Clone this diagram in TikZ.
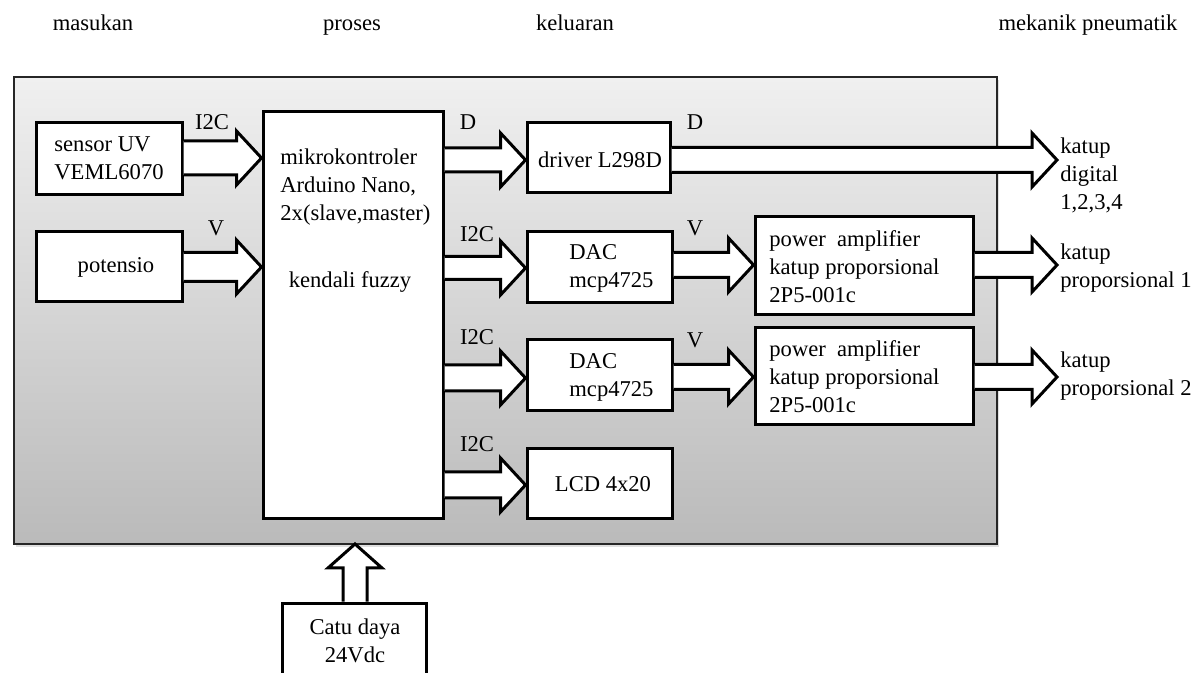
\documentclass[tikz,border=0pt]{standalone}
\usepackage{fontspec}
\setmainfont{Liberation Serif}
\usetikzlibrary{calc,shadows}
\definecolor{frtop}{RGB}{240,240,240}
\definecolor{frbot}{RGB}{186,186,186}
\tikzset{
  frame/.style={draw=black!85, line width=1.1pt, top color=frtop, bottom color=frbot,
    drop shadow={shadow xshift=1.2pt, shadow yshift=-1.5pt, opacity=0.25}, inner sep=0, outer sep=0},
  box/.style={draw, fill=white, line width=1.5pt, inner sep=0},
  txt/.style={inner sep=0, align=left, font=\fontsize{11.3}{14}\selectfont},
  blk/.style={draw, fill=white, line width=1.5pt, line join=miter},
}
% horizontal block arrow: source, target, y (px), shaft half width (px)
\newcommand\harr[4]{\path[blk] let \p1=(#1.east),\p2=(#2.west),\p3=(0,#3) in
  (\x1,\y3+#4*0.5pt) -- (\x2-12.5pt,\y3+#4*0.5pt) -- (\x2-12.5pt,\y3+13.5pt) -- (\x2,\y3)
  -- (\x2-12.5pt,\y3-13.5pt) -- (\x2-12.5pt,\y3-#4*0.5pt) -- (\x1,\y3-#4*0.5pt);}
% vertical block arrow (upwards): source, target, x (px), shaft half width (px)
\newcommand\varr[4]{\path[blk] let \p1=(#1.north),\p2=(#2.south),\p3=(#3,0) in
  (\x3-#4*0.5pt,\y1) -- (\x3-#4*0.5pt,\y2-12pt) -- (\x3-13.5pt,\y2-12pt) -- (\x3,\y2)
  -- (\x3+13.5pt,\y2-12pt) -- (\x3+#4*0.5pt,\y2-12pt) -- (\x3+#4*0.5pt,\y1);}
\begin{document}
\begin{tikzpicture}[x=0.5pt,y=-0.5pt]
\useasboundingbox (0,0) rectangle (1200,673);

% heading labels
\node[txt, anchor=base] (hin)  at (93,31)   {masukan};
\node[txt, anchor=base] (hpr)  at (352,31)  {proses};
\node[txt, anchor=base] (hout) at (575,31)  {keluaran};
\node[txt, anchor=base] (hmek) at (1088,31) {mekanik pneumatik};

% outer frame
\node[frame, minimum width=491.5pt, minimum height=233.5pt] (frame) at (505.5,310.5) {};

% boxes
\node[box, minimum width=73pt, minimum height=36pt] (sensor) at (109,159) {};
\node[box, minimum width=73pt, minimum height=35pt] (pot) at (109,267) {};
\node[box, minimum width=90pt, minimum height=203.5pt] (mcu) at (353,315.5) {};
\node[box, minimum width=71.5pt, minimum height=35pt] (drv) at (598.5,158) {};
\node[box, minimum width=72.5pt, minimum height=35.5pt] (dac1) at (599.5,267.5) {};
\node[box, minimum width=72.5pt, minimum height=35.5pt] (dac2) at (599.5,375.5) {};
\node[box, minimum width=72.5pt, minimum height=35pt] (lcd) at (599.5,484) {};
\node[box, minimum width=109pt, minimum height=49pt] (pa1) at (864,266) {};
\node[box, minimum width=109pt, minimum height=48.5pt] (pa2) at (864,376.5) {};
\node[box, minimum width=72pt, minimum height=48.5pt] (psu) at (354,651.5) {};

% box texts
\node[txt] (tsensor) at (109,158.5) {sensor UV\\VEML6070};
\node[txt] (tpot) at (116,267) {potensio};
\node[txt, anchor=west] (tmcu) at (280,187) {mikrokontroler\\Arduino Nano,\\2x(slave,master)};
\node[txt] (tfuzzy) at (350,282) {kendali fuzzy};
\node[txt] (tdrv) at (600,160) {driver L298D};
\node[txt, anchor=west] (tdac1) at (569,268.5) {DAC\\mcp4725};
\node[txt, anchor=west] (tdac2) at (569,377) {DAC\\mcp4725};
\node[txt] (tlcd) at (603,484) {LCD 4x20};
\node[txt, anchor=west] (tpa1) at (769,266.5) {power\ \ amplifier\\katup proporsional\\2P5-001c};
\node[txt, anchor=west] (tpa2) at (769,377) {power\ \ amplifier\\katup proporsional\\2P5-001c};
\node[txt, align=center] (tpsu) at (355,640.5) {Catu daya\\24Vdc};

% outputs
\node[txt, inner xsep=1.5pt, anchor=west] (kdig) at (1057,175) {katup\\digital\\1,2,3,4};
\node[txt, inner xsep=1.5pt, anchor=west] (kp1) at (1057,268.5) {katup\\proporsional 1};
\node[txt, inner xsep=1.5pt, anchor=west] (kp2) at (1057,376) {katup\\proporsional 2};

% block arrows
\harr{sensor}{mcu}{158}{17}
\harr{pot}{mcu}{267}{14.5}
\harr{mcu}{drv}{160}{12}
\harr{drv}{kdig}{160}{12.5}
\harr{mcu}{dac1}{268}{11.5}
\harr{dac1}{pa1}{265}{12.5}
\harr{pa1}{kp1}{265}{12.5}
\harr{mcu}{dac2}{378}{13}
\harr{dac2}{pa2}{377}{12.5}
\harr{pa2}{kp2}{377}{12.5}
\harr{mcu}{lcd}{485}{13}
\varr{psu}{frame}{355}{12}

% arrow labels
\node[txt] (l1) at (212,122) {I2C};
\node[txt] (l2) at (216,228) {V};
\node[txt] (l3) at (468,122) {D};
\node[txt] (l4) at (695,122) {D};
\node[txt] (l5) at (477,234) {I2C};
\node[txt] (l6) at (695,228) {V};
\node[txt] (l7) at (477,337) {I2C};
\node[txt] (l8) at (695,340) {V};
\node[txt] (l9) at (477,444) {I2C};
\end{tikzpicture}
\end{document}
